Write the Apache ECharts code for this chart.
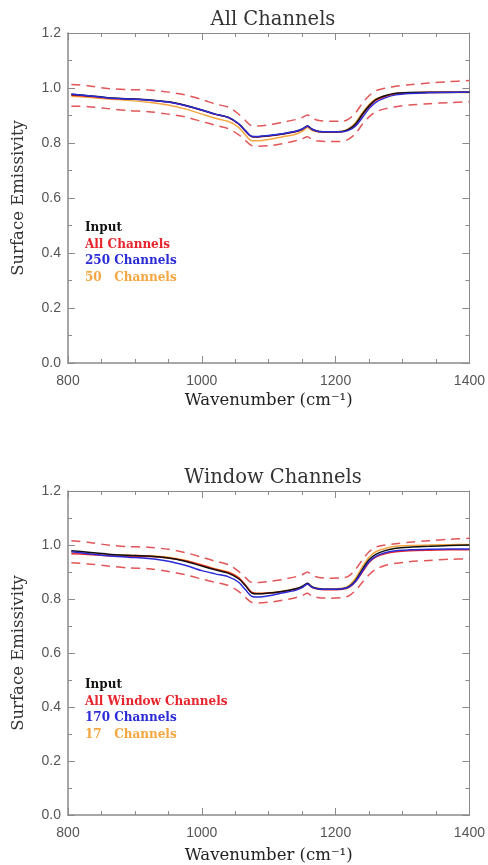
<!DOCTYPE html>
<html><head><meta charset="utf-8">
<script src="https://cdn.jsdelivr.net/npm/echarts@6/dist/echarts.min.js"></script>
<style>html,body{margin:0;padding:0;background:#fff}#c{width:488px;height:865px}</style>
</head><body><div id="c"></div>
<script>
const wavenumber = [805,830,860,890,920,950,975,1000,1020,1040,1055,1065,1075,1085,1100,1120,1140,1150,1158,1165,1175,1190,1210,1220,1230,1240,1250,1260,1275,1290,1310,1340,1370,1400];
const xTicks = [800,1000,1200,1400];
const yTicks = [0.0,0.2,0.4,0.6,0.8,1.0,1.2];

// Top panel: All Channels
const topInput = [0.976,0.972,0.965,0.961,0.957,0.950,0.937,0.920,0.905,0.893,0.870,0.845,0.824,0.823,0.826,0.833,0.842,0.850,0.862,0.850,0.842,0.841,0.842,0.850,0.870,0.905,0.935,0.958,0.973,0.981,0.984,0.985,0.985,0.985];
const topAll = [0.974,0.970,0.963,0.960,0.956,0.949,0.936,0.919,0.904,0.892,0.869,0.844,0.823,0.822,0.825,0.832,0.841,0.849,0.861,0.849,0.841,0.840,0.841,0.849,0.868,0.902,0.932,0.955,0.970,0.979,0.983,0.985,0.985,0.985];
const top250 = [0.978,0.972,0.964,0.960,0.956,0.949,0.936,0.920,0.905,0.893,0.870,0.845,0.824,0.824,0.827,0.834,0.843,0.851,0.862,0.850,0.842,0.841,0.841,0.847,0.862,0.893,0.925,0.948,0.965,0.975,0.980,0.983,0.984,0.985];
const top50 = [0.970,0.966,0.960,0.955,0.948,0.938,0.924,0.905,0.890,0.878,0.857,0.830,0.808,0.808,0.813,0.822,0.832,0.842,0.856,0.845,0.840,0.840,0.843,0.853,0.875,0.910,0.940,0.960,0.972,0.978,0.981,0.983,0.984,0.984];
const topUpper = [1.013,1.008,0.998,0.994,0.993,0.985,0.975,0.958,0.942,0.930,0.905,0.882,0.862,0.862,0.866,0.875,0.885,0.893,0.902,0.890,0.882,0.879,0.879,0.888,0.910,0.945,0.972,0.990,1.000,1.006,1.012,1.018,1.023,1.027];
const topLower = [0.934,0.932,0.925,0.918,0.914,0.905,0.895,0.878,0.865,0.852,0.830,0.810,0.790,0.788,0.790,0.797,0.808,0.815,0.823,0.812,0.807,0.805,0.806,0.815,0.835,0.868,0.895,0.913,0.925,0.932,0.938,0.943,0.947,0.950];

// Bottom panel: Window Channels
const botInput = [0.979,0.973,0.966,0.962,0.959,0.952,0.940,0.922,0.908,0.895,0.875,0.850,0.822,0.819,0.822,0.828,0.838,0.847,0.858,0.845,0.838,0.836,0.838,0.846,0.870,0.910,0.945,0.965,0.980,0.988,0.992,0.995,0.998,1.000];
const botAll = [0.968,0.965,0.960,0.958,0.957,0.952,0.942,0.925,0.910,0.898,0.878,0.852,0.823,0.820,0.822,0.827,0.836,0.845,0.856,0.842,0.836,0.834,0.836,0.843,0.865,0.900,0.935,0.955,0.968,0.975,0.979,0.981,0.982,0.982];
const bot170 = [0.975,0.968,0.960,0.955,0.950,0.940,0.925,0.905,0.893,0.882,0.862,0.835,0.810,0.807,0.812,0.822,0.832,0.842,0.856,0.843,0.837,0.836,0.838,0.845,0.866,0.903,0.938,0.958,0.972,0.979,0.982,0.984,0.985,0.985];
const bot17 = [0.975,0.970,0.965,0.962,0.960,0.955,0.944,0.927,0.912,0.900,0.880,0.853,0.825,0.821,0.823,0.829,0.838,0.846,0.857,0.844,0.839,0.838,0.840,0.850,0.878,0.920,0.955,0.975,0.988,0.995,0.998,1.000,1.001,1.002];
const botUpper = [1.016,1.010,1.000,0.994,0.992,0.984,0.972,0.955,0.940,0.927,0.902,0.880,0.861,0.861,0.865,0.872,0.882,0.890,0.900,0.888,0.880,0.877,0.878,0.886,0.910,0.945,0.975,0.992,1.000,1.005,1.010,1.016,1.021,1.025];
const botLower = [0.934,0.930,0.922,0.915,0.912,0.902,0.890,0.874,0.862,0.850,0.828,0.806,0.787,0.785,0.788,0.795,0.805,0.813,0.821,0.810,0.805,0.803,0.805,0.812,0.832,0.862,0.890,0.910,0.925,0.932,0.938,0.943,0.947,0.949];

const titles = ['All Channels','Window Channels'];
const topNames = ['Input','All Channels','250 Channels','50   Channels'];
const botNames = ['Input','All Window Channels','170 Channels','17   Channels'];

const C_BLACK='#111111', C_RED='#e8242c', C_BLUE='#2b2bd8', C_ORANGE='#f4a640', C_DASH='#e25558';
const AX='#8a8a8a';
const serif = '"DejaVu Serif", "Liberation Serif", serif';
const sans = '"Liberation Sans", Arial, sans-serif';

const zip = a => wavenumber.map((x,i)=>[x,a[i]]);

const grids = [
  {left:68, right:18, top:33, height:330},
  {left:68, right:18, top:491, height:329}
];

function xAxes(gi, gap){
  return [
    {gridIndex:gi, type:'value', min:800, max:1400, interval:200, position:'bottom',
     axisLine:{show:true, onZero:false, lineStyle:{color:AX, width:1.5}},
     axisTick:{show:true, inside:true, length:7, lineStyle:{color:AX}},
     minorTick:{show:true, splitNumber:4, length:4, lineStyle:{color:AX}},
     splitLine:{show:false},
     axisLabel:{show:true, color:'#555', fontFamily:sans, fontSize:14, margin:11,
       formatter:v=> xTicks.includes(v)? String(v):''},
     name:'Wavenumber (cm\u207B\u00B9)', nameLocation:'middle', nameGap:gap,
     nameTextStyle:{fontFamily:serif, fontWeight:'normal', fontSize:16.5, color:'#222'}},
    {gridIndex:gi, type:'value', min:800, max:1400, interval:200, position:'top',
     axisLine:{show:true, onZero:false, lineStyle:{color:AX, width:1}},
     axisTick:{show:true, inside:true, length:7, lineStyle:{color:AX}},
     minorTick:{show:true, splitNumber:4, length:4, lineStyle:{color:AX}},
     splitLine:{show:false}, axisLabel:{show:false}}
  ];
}
function yAxes(gi){
  return [
    {gridIndex:gi, type:'value', min:0, max:1.2, interval:0.2, position:'left',
     axisLine:{show:true, onZero:false, lineStyle:{color:AX, width:1.5}},
     axisTick:{show:true, inside:true, length:7, lineStyle:{color:AX}},
     minorTick:{show:true, splitNumber:2, length:4, lineStyle:{color:AX}},
     splitLine:{show:false},
     axisLabel:{show:true, color:'#555', fontFamily:sans, fontSize:14, margin:7, padding:[4,0,0,0],
       formatter:v=>{const t=yTicks.find(y=>Math.abs(y-v)<1e-6); return t===undefined?'':t.toFixed(1);}},
     name:'Surface Emissivity', nameLocation:'middle', nameGap:41,
     nameTextStyle:{fontFamily:serif, fontSize:16.5, color:'#333'}},
    {gridIndex:gi, type:'value', min:0, max:1.2, interval:0.2, position:'right',
     axisLine:{show:true, onZero:false, lineStyle:{color:AX, width:1}},
     axisTick:{show:true, inside:true, length:7, lineStyle:{color:AX}},
     minorTick:{show:true, splitNumber:2, length:4, lineStyle:{color:AX}},
     splitLine:{show:false}, axisLabel:{show:false}}
  ];
}

function panelSeries(gi, names, inp, all, sub1, sub2, up, lo){
  const xi = gi*2, yi = gi*2;
  const base = {type:'line', xAxisIndex:xi, yAxisIndex:yi, showSymbol:false, symbol:'none', smooth:0.3, animation:false, silent:true};
  return [
    Object.assign({}, base, {name:'up'+gi, data:zip(up), lineStyle:{color:C_DASH, width:1.5, type:[9,6]}}),
    Object.assign({}, base, {name:'lo'+gi, data:zip(lo), lineStyle:{color:C_DASH, width:1.5, type:[9,6]}}),
    Object.assign({}, base, {name:names[3], data:zip(sub2), lineStyle:{color:C_ORANGE, width:1.5}, itemStyle:{color:C_ORANGE}}),
    Object.assign({}, base, {name:names[1], data:zip(all), lineStyle:{color:C_RED, width:1.5}, itemStyle:{color:C_RED}}),
    Object.assign({}, base, {name:names[0], data:zip(inp), lineStyle:{color:C_BLACK, width:1.5}, itemStyle:{color:C_BLACK}}),
    Object.assign({}, base, {name:names[2], data:zip(sub1), lineStyle:{color:C_BLUE, width:1.5}, itemStyle:{color:C_BLUE}})
  ];
}

function legendFor(names, top){
  const cols=[C_BLACK,C_RED,C_BLUE,C_ORANGE];
  return {orient:'vertical', left:85, top:top, icon:'none', itemWidth:0, itemHeight:14, itemGap:3.5,
    selectedMode:false, padding:0,
    textStyle:{fontFamily:serif, fontWeight:'bold', fontSize:12, padding:[0,0,0,-5]},
    data:names.map((n,i)=>({name:n, textStyle:{color:cols[i]}}))};
}

const chart = echarts.init(document.getElementById('c'), null, {renderer:'canvas'});
chart.setOption({
  animation:false,
  backgroundColor:'#fff',
  title:[
    {text:titles[0], left:268, top:5, textAlign:'center', textStyle:{fontFamily:serif, fontWeight:'normal', fontSize:19.5, color:'#333'}},
    {text:titles[1], left:268, top:463, textAlign:'center', textStyle:{fontFamily:serif, fontWeight:'normal', fontSize:19.5, color:'#333'}}
  ],
  legend:[legendFor(topNames, 221), legendFor(botNames, 678)],
  grid:grids,
  xAxis:[...xAxes(0, 29), ...xAxes(1, 32)],
  yAxis:[...yAxes(0), ...yAxes(1)],
  series:[
    ...panelSeries(0, topNames, topInput, topAll, top250, top50, topUpper, topLower),
    ...panelSeries(1, botNames, botInput, botAll, bot170, bot17, botUpper, botLower)
  ]
});
</script></body></html>
